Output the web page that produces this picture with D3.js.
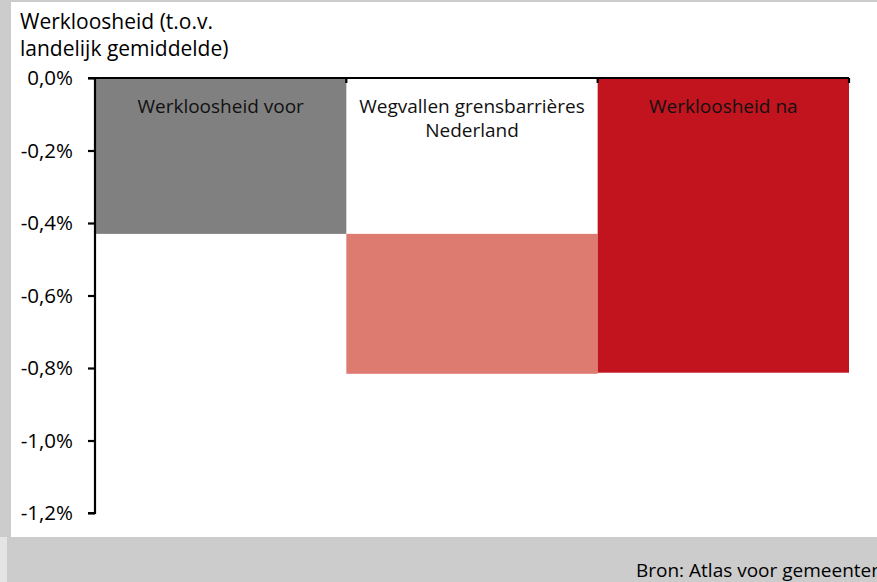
<!DOCTYPE html>
<html>
<head>
<meta charset="utf-8">
<script src="https://cdn.jsdelivr.net/npm/d3@7"></script>
<style>
  body { margin: 0; background: #fff; }
  svg { display: block; font-family: "Open Sans", sans-serif; }
</style>
</head>
<body>
<svg id="chart"></svg>
<script>
// waterfall: start, step, end (in %)
const categories = ["Werkloosheid voor", "Wegvallen grensbarrières\nNederland", "Werkloosheid na"]
const starts = [0, -0.43, 0]
const ends = [-0.43, -0.816, -0.813]
const colors = ["#808080", "#de7b70", "#c1141e"]
const yTicks = [0, -0.2, -0.4, -0.6, -0.8, -1.0, -1.2]
const titleLines = ["Werkloosheid (t.o.v.", "landelijk gemiddelde)"]
const source = "Bron: Atlas voor gemeenten"

const width = 877
const height = 582
const margin = {top: 78, left: 95, right: 28, bottom: 69}

const svg = d3.select("#chart").attr("width", width).attr("height", height)

// frame
svg.append("rect").attr("x", 0).attr("y", 0).attr("width", width).attr("height", height).attr("fill", "#cccccc")
svg.append("rect").attr("x", 11).attr("y", 2).attr("width", width - 11).attr("height", 535).attr("fill", "#fff")
svg.append("rect").attr("x", 0).attr("y", 537).attr("width", 7).attr("height", 45).attr("fill", "#e4e4e4")

const x = d3.scaleBand().domain(categories).range([margin.left, width - margin.right]).padding(0)
const y = d3.scaleLinear().domain([-1.2, 0]).range([height - margin.bottom, margin.top])

// bars
svg.selectAll("rect.bar").data(categories)
    .join("rect")
    .attr("class", "bar")
    .attr("x", d => x(d))
    .attr("width", x.bandwidth())
    .attr("y", (d, i) => y(Math.max(starts[i], ends[i])))
    .attr("height", (d, i) => Math.abs(y(starts[i]) - y(ends[i])))
    .attr("fill", (d, i) => colors[i])

// bar labels
const lbl = svg.selectAll("text.lbl").data(categories)
    .join("text")
    .attr("class", "lbl")
    .attr("x", d => x(d) + x.bandwidth() / 2)
    .attr("y", 113)
    .attr("text-anchor", "middle")
    .attr("font-size", 19)
    .attr("fill", "#111")
lbl.selectAll("tspan").data(d => d.split("\n"))
    .join("tspan")
    .attr("x", function() { return this.parentNode.getAttribute("x") })
    .attr("dy", (d, i) => i === 0 ? 0 : 24)
    .text(d => d)

// y axis
const yAxis = d3.axisLeft(y).tickValues(yTicks).tickSize(7).tickPadding(15)
    .tickFormat(d => d3.format(".1f")(d).replace("−", "-").replace(".", ",") + "%")
const gy = svg.append("g").attr("transform", `translate(${margin.left},0)`).call(yAxis)
gy.select(".domain").attr("stroke-width", 2.2).attr("d", `M-7,${y(-1.2)}H0V${y(0)}H-7`)
gy.selectAll(".tick line").attr("stroke-width", 2.2)
gy.selectAll(".tick text").attr("font-size", 20.5).attr("fill", "#000").attr("font-family", "Open Sans, sans-serif")

// x axis on zero line
const boundaries = categories.map(d => x(d) + x.bandwidth())
const gx = svg.append("g")
gx.append("line").attr("x1", margin.left - 7).attr("x2", width - margin.right)
    .attr("y1", y(0)).attr("y2", y(0)).attr("stroke", "#000").attr("stroke-width", 2.2)
gx.selectAll("line.tk").data(boundaries)
    .join("line").attr("class", "tk")
    .attr("x1", d => d).attr("x2", d => d)
    .attr("y1", y(0)).attr("y2", y(0) + 5)
    .attr("stroke", "#000").attr("stroke-width", 2.2)

// title
svg.append("text").attr("x", 20).attr("y", 29).attr("font-size", 21).attr("fill", "#000")
    .selectAll("tspan").data(titleLines).join("tspan")
    .attr("x", 20).attr("dy", (d, i) => i === 0 ? 0 : 26.5).text(d => d)

// source
svg.append("text").attr("x", 636).attr("y", 577).attr("font-size", 19).attr("fill", "#000").text(source)
</script>
</body>
</html>
